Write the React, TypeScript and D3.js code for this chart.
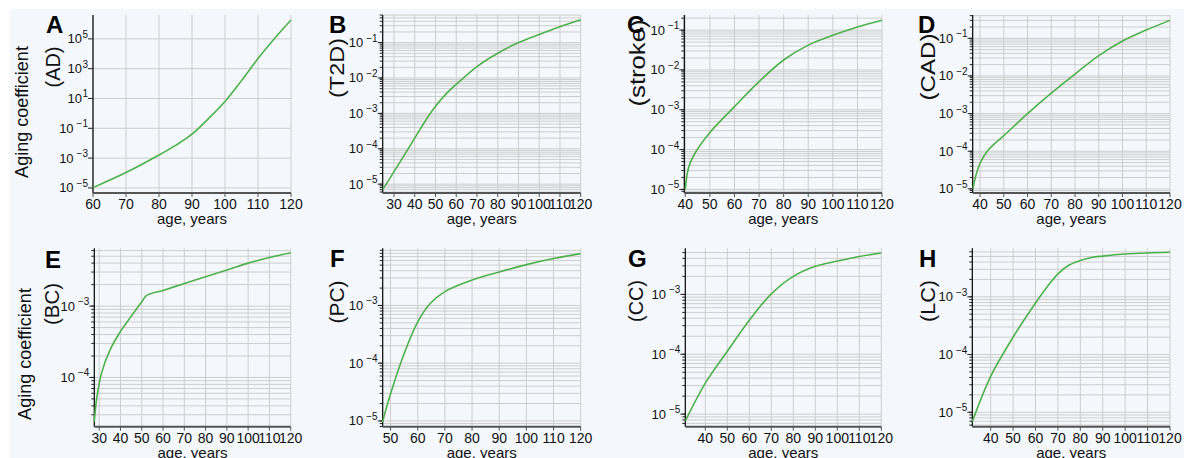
import React from "react";
import * as d3 from "d3";

// ---- data (age in years, aging coefficient) ----
const agesA = [60, 70, 80, 85, 90, 95, 100, 105, 110, 115, 120];
const valuesA = [1.05e-5, 1.07e-4, 1.6e-3, 7.1e-3, 4.0e-2, 0.45, 6.3, 158, 4.8e3, 1.07e5, 1.86e6];

const agesB = [24.6, 30, 40, 45, 50, 55, 60, 70, 80, 90, 100, 110, 120];
const valuesB = [7.1e-6, 2.25e-5, 2.0e-4, 6.0e-4, 1.58e-3, 3.5e-3, 6.6e-3, 2.1e-2, 5.0e-2, 0.1, 0.17, 0.28, 0.44];

const agesC = [40, 40.8, 41.9, 44.6, 50, 60, 70, 80, 90, 100, 110, 120];
const valuesC = [1.0e-5, 2.5e-5, 4.5e-5, 9.5e-5, 2.7e-4, 1.2e-3, 5.1e-3, 1.78e-2, 4.2e-2, 7.4e-2, 0.12, 0.178];

const agesD = [37, 38, 40, 43, 45.6, 50, 60, 70, 80, 90, 100, 110, 120];
const valuesD = [1.0e-5, 2.0e-5, 4.8e-5, 1.0e-4, 1.48e-4, 2.6e-4, 1.0e-3, 3.5e-3, 1.12e-2, 3.47e-2, 8.5e-2, 0.166, 0.30];

const agesE = [27.7, 28.8, 31.1, 35, 40, 44.6, 50, 52.3, 60, 70, 80, 90, 100, 110, 120];
const valuesE = [2.4e-5, 5.0e-5, 1.15e-4, 2.4e-4, 4.4e-4, 6.9e-4, 1.15e-3, 1.41e-3, 1.66e-3, 2.07e-3, 2.57e-3, 3.2e-3, 4.0e-3, 4.8e-3, 5.6e-3];

const agesF = [47, 50, 54.7, 60, 64.5, 70, 80, 90, 100, 110, 120];
const valuesF = [9.5e-6, 2.95e-5, 1.35e-4, 5.2e-4, 1.07e-3, 1.74e-3, 2.75e-3, 3.8e-3, 5.1e-3, 6.5e-3, 7.9e-3];

const agesG = [31, 40, 50, 60, 70, 80, 90, 100, 110, 120];
const valuesG = [7.8e-6, 3.3e-5, 1.12e-4, 3.7e-4, 1.02e-3, 2.0e-3, 2.95e-3, 3.6e-3, 4.3e-3, 4.9e-3];

const agesH = [31.8, 40, 50, 60, 65, 70, 75, 80, 85, 90, 100, 110, 120];
const valuesH = [6.9e-6, 4.2e-5, 2.0e-4, 7.8e-4, 1.45e-3, 2.5e-3, 3.55e-3, 4.25e-3, 4.8e-3, 5.07e-3, 5.5e-3, 5.75e-3, 5.9e-3];

// ---- tick labels ----
const xTicksA = [60, 70, 80, 90, 100, 110, 120];
const xTicksB = [30, 40, 50, 60, 70, 80, 90, 100, 110, 120];
const xTicksC = [40, 50, 60, 70, 80, 90, 100, 110, 120];
const xTicksD = [40, 50, 60, 70, 80, 90, 100, 110, 120];
const xTicksE = [30, 40, 50, 60, 70, 80, 90, 100, 110, 120];
const xTicksF = [50, 60, 70, 80, 90, 100, 110, 120];
const xTicksG = [40, 50, 60, 70, 80, 90, 100, 110, 120];
const xTicksH = [40, 50, 60, 70, 80, 90, 100, 110, 120];

const yExpA = [-5, -3, -1, 1, 3, 5];
const yExpB = [-5, -4, -3, -2, -1];
const yExpC = [-5, -4, -3, -2, -1];
const yExpD = [-5, -4, -3, -2, -1];
const yExpE = [-4, -3];
const yExpF = [-5, -4, -3];
const yExpG = [-5, -4, -3];
const yExpH = [-5, -4, -3];

const panelLetters = ["A", "B", "C", "D", "E", "F", "G", "H"];
const panelLabels = ["(AD)", "(T2D)", "(stroke)", "(CAD)", "(BC)", "(PC)", "(CC)", "(LC)"];

// ---- layout ----
type Panel = {
  letter: string;
  label: string;
  ages: number[];
  values: number[];
  xTicks: number[];
  yExps: number[];
  minor: boolean;
  x0: number; x1: number; y0: number; y1: number;
  xDom: [number, number];
  yDom: [number, number];
  labelX: number; labelY: number; labelSize: number; labelLen: number;
  letterX: number; letterY: number;
};

const TOP = { y0: 15, y1: 193 };
const BOT = { y0: 248.3, y1: 426.7 };

const panels: Panel[] = [
  { ages: agesA, values: valuesA, xTicks: xTicksA, yExps: yExpA, minor: false, x0: 93, x1: 291, ...TOP, xDom: [60, 120], yDom: [-5.34, 6.6], labelX: 53, labelY: 67, labelSize: 20, labelLen: 41, letterX: 46, letterY: 33 },
  { ages: agesB, values: valuesB, xTicks: xTicksB, yExps: yExpB, minor: true, x0: 382.7, x1: 580.7, ...TOP, xDom: [24.55, 120], yDom: [-5.25, -0.22], labelX: 336, labelY: 68, labelSize: 21, labelLen: 60, letterX: 329, letterY: 33 },
  { ages: agesC, values: valuesC, xTicks: xTicksC, yExps: yExpC, minor: true, x0: 684.3, x1: 882, ...TOP, xDom: [39.6, 120], yDom: [-5.09, -0.62], labelX: 637, labelY: 63, labelSize: 22, labelLen: 87, letterX: 627, letterY: 33 },
  { ages: agesD, values: valuesD, xTicks: xTicksD, yExps: yExpD, minor: true, x0: 972.7, x1: 1170, ...TOP, xDom: [36.9, 120], yDom: [-5.11, -0.38], labelX: 927, labelY: 67, labelSize: 21, labelLen: 67, letterX: 918, letterY: 33 },
  { ages: agesE, values: valuesE, xTicks: xTicksE, yExps: yExpE, minor: true, x0: 94.3, x1: 290.7, ...BOT, xDom: [27.7, 120], yDom: [-4.69, -2.19], labelX: 52, labelY: 304, labelSize: 20, labelLen: 42, letterX: 45, letterY: 268 },
  { ages: agesF, values: valuesF, xTicks: xTicksF, yExps: yExpF, minor: true, x0: 382.7, x1: 580.7, ...BOT, xDom: [47.1, 120], yDom: [-5.1, -2.01], labelX: 336, labelY: 302, labelSize: 21, labelLen: 43, letterX: 330, letterY: 267 },
  { ages: agesG, values: valuesG, xTicks: xTicksG, yExps: yExpG, minor: true, x0: 685.3, x1: 881.3, ...BOT, xDom: [30.9, 120], yDom: [-5.21, -2.23], labelX: 636, labelY: 301, labelSize: 20, labelLen: 42, letterX: 628, letterY: 267 },
  { ages: agesH, values: valuesH, xTicks: xTicksH, yExps: yExpH, minor: true, x0: 972.3, x1: 1170, ...BOT, xDom: [31.8, 120], yDom: [-5.25, -2.16], labelX: 927, labelY: 301, labelSize: 21, labelLen: 42, letterX: 919, letterY: 267 },
].map((p, i) => ({ ...p, letter: panelLetters[i], label: panelLabels[i] })) as Panel[];

const FONT = "'Liberation Sans', Arial, Helvetica, sans-serif";
const GREEN = "#4fb04a";
const GRID = "#cdcdcd";

function PanelView({ p }: { p: Panel }) {
  const x = d3.scaleLinear().domain(p.xDom).range([p.x0, p.x1]);
  const y = d3.scaleLog().domain([10 ** p.yDom[0], 10 ** p.yDom[1]]).range([p.y1, p.y0]);
  const pts = p.ages.map((a, i) => [a, p.values[i]] as [number, number]);
  const line = d3
    .line<[number, number]>()
    .x((d) => x(d[0]))
    .y((d) => y(d[1]))
    .curve(d3.curveCatmullRom.alpha(0.5));

  const lo = Math.floor(p.yDom[0]);
  const hi = Math.ceil(p.yDom[1]);
  const minorVals: number[] = [];
  if (p.minor) {
    for (let k = lo; k <= hi; k++) {
      for (let m = 1; m <= 9; m++) {
        const v = m * 10 ** k;
        const lv = Math.log10(v);
        if (lv >= p.yDom[0] && lv <= p.yDom[1]) minorVals.push(v);
      }
    }
  }
  const majorVals = p.yExps.map((e) => 10 ** e);

  return (
    <g>
      {(p.minor ? minorVals : majorVals).map((v, i) => (
        <line key={"h" + i} x1={p.x0} x2={p.x1} y1={y(v)} y2={y(v)} stroke={GRID} strokeWidth={1} />
      ))}
      {p.xTicks.map((t) => (
        <line key={"v" + t} x1={x(t)} x2={x(t)} y1={p.y0} y2={p.y1} stroke={GRID} strokeWidth={1} />
      ))}
      <line x1={p.x0} x2={p.x0} y1={p.y0} y2={p.y1} stroke="#000" strokeWidth={1.2} />
      {minorVals.map((v, i) => (
        <line key={"mt" + i} x1={p.x0 - 3} x2={p.x0} y1={y(v)} y2={y(v)} stroke="#222" strokeWidth={1} />
      ))}
      {majorVals.map((v, i) => (
        <line key={"Mt" + i} x1={p.x0 - 5} x2={p.x0} y1={y(v)} y2={y(v)} stroke="#222" strokeWidth={1} />
      ))}
      {p.yExps.map((e) => (
        <text key={"yl" + e} x={p.x0 - 5} y={y(10 ** e) + 4.5} textAnchor="end" fontFamily={FONT} fill="#111">
          <tspan fontSize={13}>10</tspan>
          <tspan fontSize={10} dy={-5.5} dx={e < 0 ? 3 : 0.5}>
            {e < 0 ? "\u2212" + Math.abs(e) : String(e)}
          </tspan>
        </text>
      ))}
      <line x1={p.x0} x2={p.x1} y1={p.y1} y2={p.y1} stroke="#555" strokeWidth={2} />
      {p.xTicks.map((t) => (
        <line key={"xt" + t} x1={x(t)} x2={x(t)} y1={p.y1} y2={p.y1 + 4} stroke="#555" strokeWidth={1} />
      ))}
      {p.xTicks.map((t) => (
        <text key={"xl" + t} x={x(t)} y={p.y1 + 16} textAnchor="middle" fontFamily={FONT} fontSize={14} fill="#111">
          {t}
        </text>
      ))}
      <text x={(p.x0 + p.x1) / 2} y={p.y1 + 31} textAnchor="middle" fontFamily={FONT} fontSize={15} fill="#111">
        age, years
      </text>
      <path d={line(pts) || ""} fill="none" stroke={GREEN} strokeWidth={1.6} />
      <text
        transform={`translate(${p.labelX},${p.labelY + p.labelLen / 2}) rotate(-90)`}
        textAnchor="start"
        dominantBaseline="central"
        fontFamily={FONT}
        fontSize={p.labelSize}
        textLength={p.labelLen}
        lengthAdjust="spacingAndGlyphs"
        fill="#111"
      >
        {p.label}
      </text>
      <text x={p.letterX} y={p.letterY} fontFamily={FONT} fontWeight="bold" fontSize={24} fill="#000">
        {p.letter}
      </text>
    </g>
  );
}

export default function App() {
  return (
    <svg
      width={1184}
      height={458}
      style={{ position: "absolute", left: 0, top: 0, display: "block" }}
    >
      <rect x={0} y={0} width={1184} height={458} fill="#ffffff" />
      <rect x={10} y={9} width={1174} height={449} fill="#f4f8fd" />
      <text transform="translate(22,112) rotate(-90)" textAnchor="middle" dominantBaseline="central" fontFamily={FONT} fontSize={18} fill="#111">
        Aging coefficient
      </text>
      <text transform="translate(25,354) rotate(-90)" textAnchor="middle" dominantBaseline="central" fontFamily={FONT} fontSize={18} fill="#111">
        Aging coefficient
      </text>
      {panels.map((p) => (
        <PanelView key={p.letter} p={p} />
      ))}
    </svg>
  );
}
